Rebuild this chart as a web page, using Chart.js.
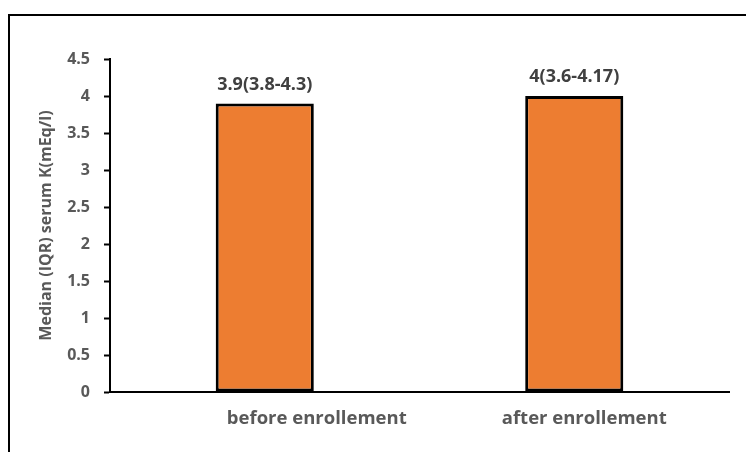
<!DOCTYPE html>
<html>

<head>
  <meta charset="utf-8">
  <title>Serum K before / after enrollement</title>
  <script src="https://cdnjs.cloudflare.com/ajax/libs/Chart.js/4.4.0/chart.umd.min.js"></script>
  <style>
    html,
    body {
      margin: 0;
      padding: 0;
      background: #fff;
    }

    #wrap {
      position: relative;
      width: 746px;
      height: 452px;
    }

    #frame {
      position: absolute;
      left: 8px;
      top: 14px;
      right: 0;
      bottom: 0;
      border-top: 2px solid #000;
      border-left: 2px solid #000;
      pointer-events: none;
    }
  </style>
</head>

<body>
  <div id="wrap">
    <canvas id="chart" width="746" height="452"></canvas>
    <div id="frame"></div>
  </div>
  <script>
    var categories = ['before enrollement', 'after enrollement'];
    var medians = [3.9, 4];
    var iqrLow = [3.8, 3.6];
    var iqrHigh = [4.3, 4.17];
    var yTicks = [0, 0.5, 1, 1.5, 2, 2.5, 3, 3.5, 4, 4.5];

    var FONT = "'Open Sans', 'DejaVu Sans', sans-serif";
    // the category names in the original sit right of their bars
    var labelShift = [52, 10];

    var barLabels = {
      id: 'barLabels',
      afterDatasetsDraw: function(chart) {
        var ctx = chart.ctx;
        var meta = chart.getDatasetMeta(0);
        var xs = chart.scales.x;
        ctx.save();
        ctx.textAlign = 'center';
        ctx.textBaseline = 'middle';
        // median(IQR) above the bars
        ctx.font = 'bold 18px ' + FONT;
        ctx.fillStyle = '#404040';
        meta.data.forEach(function(bar, i) {
          var txt = medians[i] + '(' + iqrLow[i] + '-' + iqrHigh[i] + ')';
          ctx.fillText(txt, bar.x, bar.y - 19);
        });
        // category names under the axis
        ctx.font = 'bold 18.5px ' + FONT;
        ctx.fillStyle = '#595959';
        categories.forEach(function(c, i) {
          ctx.fillText(c, xs.getPixelForValue(i) + labelShift[i], xs.top + 27);
        });
        ctx.restore();
      }
    };

    var ctx = document.getElementById('chart').getContext('2d');
    window.chart = new Chart(ctx, {
      type: 'bar',
      data: {
        labels: categories,
        datasets: [{
          data: medians,
          backgroundColor: '#ED7D31',
          borderColor: '#000',
          borderWidth: 3,
          borderSkipped: false,
          barPercentage: 0.317,
          categoryPercentage: 1
        }]
      },
      options: {
        responsive: false,
        animation: false,
        layout: {
          padding: { top: 59, right: 17, bottom: 0, left: 0 }
        },
        plugins: {
          legend: { display: false },
          tooltip: { enabled: false }
        },
        scales: {
          x: {
            grid: { display: false, drawTicks: false },
            border: { color: '#000', width: 2 },
            ticks: { display: false },
            afterFit: function(scale) { scale.height = 60; }
          },
          y: {
            min: 0,
            max: 4.5,
            afterBuildTicks: function(scale) {
              scale.ticks = yTicks.map(function(v) { return { value: v }; });
            },
            grid: {
              drawOnChartArea: false,
              drawTicks: true,
              tickLength: 6,
              tickColor: '#000',
              tickWidth: 2
            },
            border: { color: '#000', width: 2 },
            ticks: {
              color: '#595959',
              padding: 14,
              font: { family: FONT, size: 16, weight: 'bold' },
              callback: function(v) { return String(v); }
            },
            title: {
              display: true,
              text: 'Median (IQR) serum K(mEq/l)',
              color: '#595959',
              padding: { top: 37, bottom: 0 },
              font: { family: FONT, size: 16, weight: 'bold' }
            },
            afterFit: function(scale) { scale.width = 110; }
          }
        }
      },
      plugins: [barLabels]
    });
  </script>
</body>

</html>
